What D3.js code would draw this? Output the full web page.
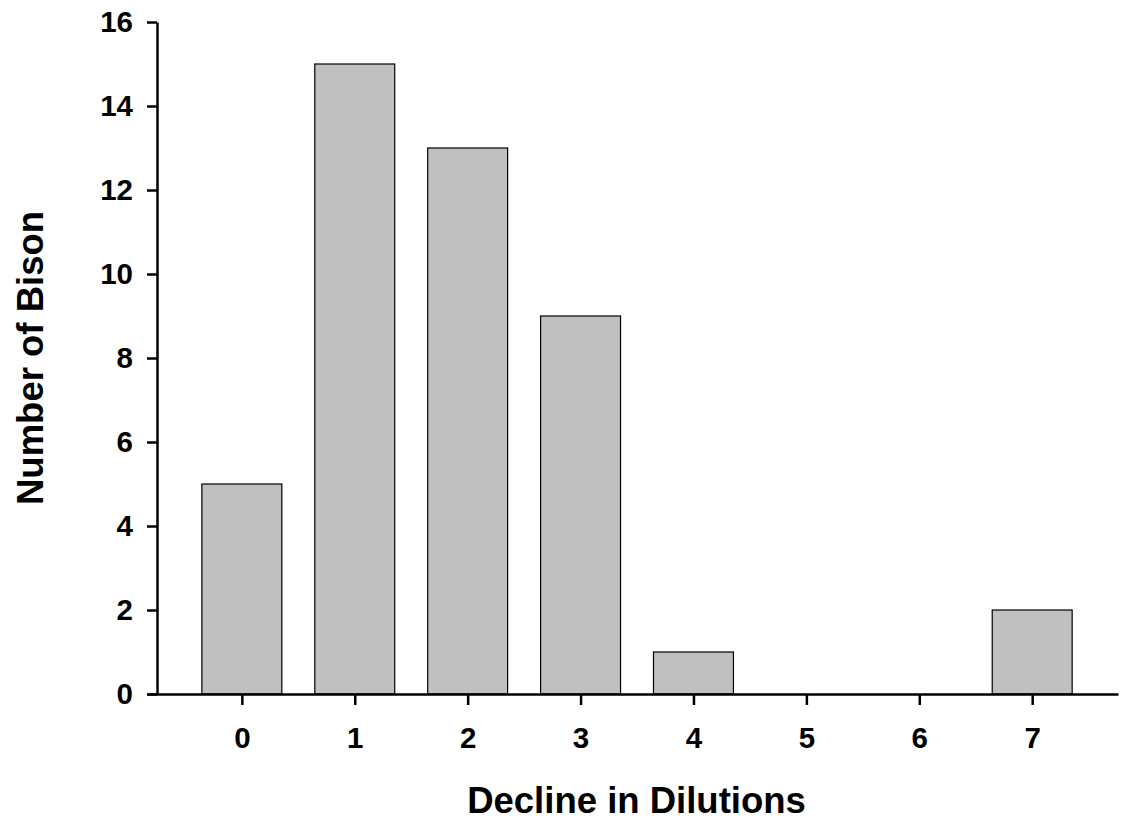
<!DOCTYPE html>
<html lang="en">
<head>
    <meta charset="UTF-8">
    <title>Number of Bison by Decline in Dilutions</title>
    <script src="https://d3js.org/d3.v7.min.js"></script>
    <style>
        body { margin: 0; background: #fff; }
        svg text {
            font-family: "Liberation Sans", Arial, sans-serif;
            font-weight: bold;
            fill: #000;
        }
        .axis path, .axis line {
            stroke: #000;
            stroke-width: 2.5px;
        }
        .axis text { font-size: 29.5px; }
        .axis-title { font-size: 36.5px; }
        .bar {
            fill: #c0c0c0;
            stroke: #000;
            stroke-width: 1.2px;
        }
    </style>
</head>
<body>
    <svg width="1122" height="822"></svg>

    <script>
        // Data
        const declines = [0, 1, 2, 3, 4, 5, 6, 7];
        const bisonCounts = [5, 15, 13, 9, 1, 0, 0, 2];
        const yTicks = [0, 2, 4, 6, 8, 10, 12, 14, 16];

        const svg = d3.select("svg");

        // Scales (x axis sticks out a little left of the y axis)
        const x = d3.scaleLinear().domain([-0.84, 7.76]).range([147, 1118]);
        const y = d3.scaleLinear().domain([0, 16]).range([694, 22]);
        const yAxisX = 157;
        const barWidth = 0.708; // in category units

        // Bars
        svg.selectAll(".bar")
            .data(declines.map((d, i) => ({ cat: d, value: bisonCounts[i] })).filter(d => d.value > 0))
            .enter().append("rect")
            .attr("class", "bar")
            .attr("x", d => x(d.cat - barWidth / 2))
            .attr("width", d => x(d.cat + barWidth / 2) - x(d.cat - barWidth / 2))
            .attr("y", d => y(d.value))
            .attr("height", d => y(0) - y(d.value));

        // X axis
        svg.append("g")
            .attr("class", "axis")
            .attr("transform", `translate(0,${y(0)})`)
            .call(d3.axisBottom(x).tickValues(declines).tickFormat(d3.format("d"))
                .tickSize(11).tickSizeOuter(0).tickPadding(22));

        // Y axis
        svg.append("g")
            .attr("class", "axis")
            .attr("transform", `translate(${yAxisX},0)`)
            .call(d3.axisLeft(y).tickValues(yTicks).tickFormat(d3.format("d"))
                .tickSize(10).tickSizeOuter(0).tickPadding(14));

        // Axis titles
        svg.append("text")
            .attr("class", "axis-title")
            .attr("x", (147 + 1118) / 2 + 4)
            .attr("y", 813)
            .attr("text-anchor", "middle")
            .text("Decline in Dilutions");

        svg.append("text")
            .attr("class", "axis-title")
            .attr("transform", "translate(43,358) rotate(-90)")
            .attr("text-anchor", "middle")
            .text("Number of Bison");
    </script>
</body>
</html>
